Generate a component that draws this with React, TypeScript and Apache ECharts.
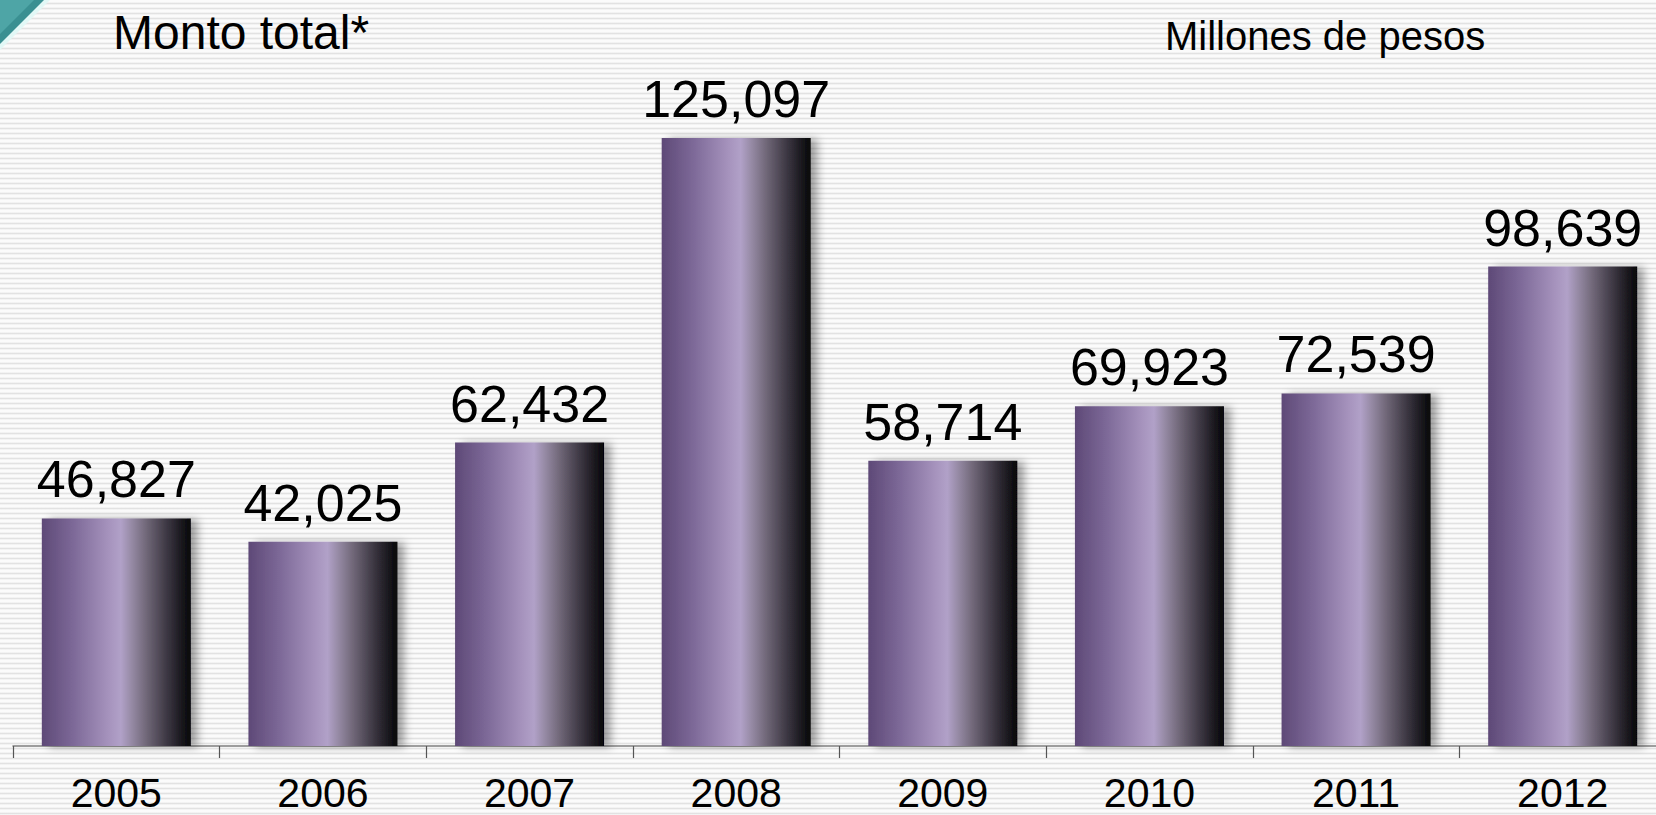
import React, { useEffect, useRef } from "react";
import * as echarts from "echarts";

const categories = ["2005", "2006", "2007", "2008", "2009", "2010", "2011", "2012"];
const values = [46827, 42025, 62432, 125097, 58714, 69923, 72539, 98639];
const titleText = "Monto total*";
const unitText = "Millones de pesos";

const FONT = "Arial, 'Liberation Sans', Helvetica, sans-serif";

export default function App() {
  const ref = useRef<HTMLDivElement>(null);
  useEffect(() => {
    if (!ref.current) return;
    const chart = echarts.init(ref.current, undefined, { renderer: "svg" });
    const barGradient = new echarts.graphic.LinearGradient(0, 0, 1, 0, [
      { offset: 0, color: "#5e4977" },
      { offset: 0.2, color: "#7b6796" },
      { offset: 0.45, color: "#a693bd" },
      { offset: 0.53, color: "#b1a1c8" },
      { offset: 0.6, color: "#978ba6" },
      { offset: 0.7, color: "#716879" },
      { offset: 0.85, color: "#39343f" },
      { offset: 1, color: "#050507" },
    ]);
    chart.setOption({
      animation: false,
      backgroundColor: "transparent",
      grid: { left: 13, right: 14, top: 17, bottom: 69, containLabel: false },
      xAxis: {
        type: "category",
        data: categories,
        axisLine: { show: true, lineStyle: { color: "#7f7f7f", width: 1.5 } },
        axisTick: { show: true, length: 12, lineStyle: { color: "#555", width: 1.2 } },
        axisLabel: { color: "#000", fontSize: 41, fontFamily: FONT, margin: 26 },
      },
      yAxis: {
        type: "value",
        min: 0,
        max: 150000,
        show: false,
        splitLine: { show: false },
      },
      graphic: [
        {
          type: "polygon",
          shape: { points: [[0, 0], [50, 0], [0, 50]] },
          style: { fill: "#e2f8f6" },
        },
        {
          type: "polygon",
          shape: { points: [[0, 0], [44, 0], [0, 44]] },
          style: { fill: "#3a9092" },
        },
        {
          type: "polygon",
          shape: { points: [[0, 0], [34, 0], [0, 34]] },
          style: { fill: "#4ea5a6" },
        },
        {
          type: "text",
          left: 113,
          top: 8,
          style: { text: titleText, fontSize: 48, fontFamily: FONT, fill: "#000" },
        },
        {
          type: "text",
          left: 1165,
          top: 16,
          style: { text: unitText, fontSize: 40, fontFamily: FONT, fill: "#000" },
        },
      ],
      series: [
        {
          type: "bar",
          data: values,
          barWidth: 149,
          itemStyle: {
            color: barGradient,
            shadowColor: "rgba(0,0,0,0.35)",
            shadowBlur: 8,
            shadowOffsetX: 7,
            shadowOffsetY: 1,
          },
          label: {
            show: true,
            position: "top",
            distance: 13,
            color: "#000",
            fontSize: 52,
            fontFamily: FONT,
            formatter: (p: any) => Number(p.value).toLocaleString("en-US"),
          },
        },
      ],
    });
    return () => chart.dispose();
  }, []);
  return (
    <div
      style={{
        position: "fixed",
        left: 0,
        top: 0,
        width: 1656,
        height: 815,
        overflow: "hidden",
        background:
          "repeating-linear-gradient(to bottom, #fbfbfb 0px, #fbfbfb 2px, #e2e2e2 3.5px, #fbfbfb 5px)",
      }}
    >
      <div ref={ref} style={{ width: 1680, height: 815 }} />
    </div>
  );
}
